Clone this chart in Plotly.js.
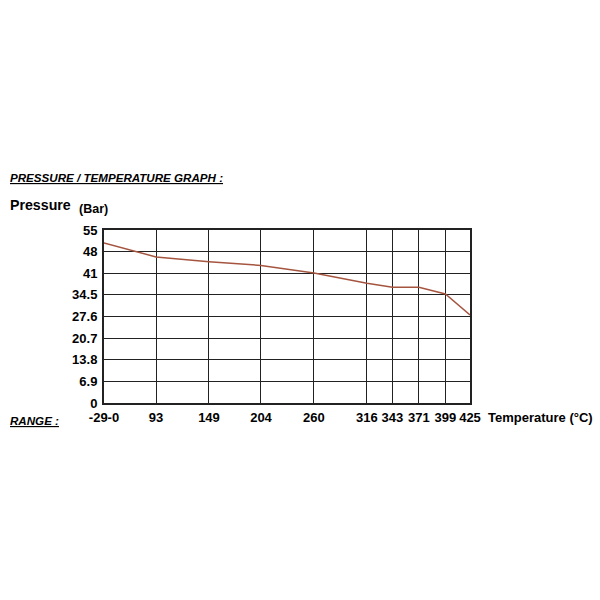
<!DOCTYPE html>
<html>
<head>
<meta charset="utf-8">
<script src="https://cdn.plot.ly/plotly-3.0.1.min.js"></script>
<style>html,body{margin:0;padding:0;background:#fff;}#chart{width:600px;height:600px;}</style>
</head>
<body>
<div id="chart"></div>
<script>
// Temperature (°C) — first point covers the -29 to 38 range, labelled "-29-0"
const temperatures = [38, 93, 149, 204, 260, 316, 343, 371, 399, 425];
const temperatureLabels = ["-29-0", "93", "149", "204", "260", "316", "343", "371", "399", "425"];
// Pressure (Bar)
const pressures = [51.1, 46.6, 45.1, 43.9, 41.5, 38.2, 36.9, 36.9, 34.8, 28.1];
const pressureTicks = [0, 6.9, 13.8, 20.7, 27.6, 34.5, 41.4, 48.3, 55.2];
const pressureLabels = ["0", "6.9", "13.8", "20.7", "27.6", "34.5", "41", "48", "55"];

const FONT = "Liberation Sans, Arial, sans-serif";

const trace = {
  x: temperatures,
  y: pressures,
  type: "scatter",
  mode: "lines",
  line: {color: "#a5553f", width: 1.5},
  hoverinfo: "skip",
  showlegend: false
};

const layout = {
  width: 600, height: 600,
  margin: {l: 104, r: 130, t: 230, b: 197},
  paper_bgcolor: "#fff", plot_bgcolor: "#fff",
  font: {family: FONT, color: "#000"},
  xaxis: {
    range: [38, 425],
    tickmode: "array", tickvals: temperatures, ticktext: temperatureLabels,
    tickfont: {family: FONT, size: 13, weight: "bold", color: "#000"},
    showgrid: true, gridcolor: "#222", gridwidth: 1,
    zeroline: false, showline: true, linecolor: "#222", linewidth: 2, mirror: true,
    ticks: "", ticklabelstandoff: 1, fixedrange: true
  },
  yaxis: {
    range: [0, 55.2],
    tickmode: "array", tickvals: pressureTicks, ticktext: pressureLabels,
    tickfont: {family: FONT, size: 13, weight: "bold", color: "#000"},
    showgrid: true, gridcolor: "#222", gridwidth: 1,
    zeroline: false, showline: true, linecolor: "#222", linewidth: 2, mirror: true,
    ticks: "", ticklabelstandoff: 2, fixedrange: true
  },
  annotations: [
    {text: "<span style=\"text-decoration:underline\"><b><i>PRESSURE / TEMPERATURE GRAPH :</i></b></span>",
     xref: "paper", yref: "paper", x: -0.262, y: 1.306, xanchor: "left", yanchor: "middle",
     showarrow: false, font: {family: FONT, size: 11.6, color: "#000"}},
    {text: "<b>Pressure</b>", xref: "paper", yref: "paper", x: -0.262, y: 1.145,
     xanchor: "left", yanchor: "middle", showarrow: false, font: {family: FONT, size: 14.2, color: "#000"}},
    {text: "<b>(Bar)</b>", xref: "paper", yref: "paper", x: -0.074, y: 1.12,
     xanchor: "left", yanchor: "middle", showarrow: false, font: {family: FONT, size: 12.5, color: "#000"}},
    {text: "<span style=\"text-decoration:underline\"><b><i>RANGE :</i></b></span>",
     xref: "paper", yref: "paper", x: -0.262, y: -0.104, xanchor: "left", yanchor: "middle",
     showarrow: false, font: {family: FONT, size: 11.6, color: "#000"}},
    {text: "<b>Temperature (°C)</b>", xref: "paper", yref: "paper", x: 1.043, y: -0.081,
     xanchor: "left", yanchor: "middle", showarrow: false, font: {family: FONT, size: 13, color: "#000"}}
  ]
};

Plotly.newPlot("chart", [trace], layout, {staticPlot: true, displayModeBar: false});
</script>
</body>
</html>
